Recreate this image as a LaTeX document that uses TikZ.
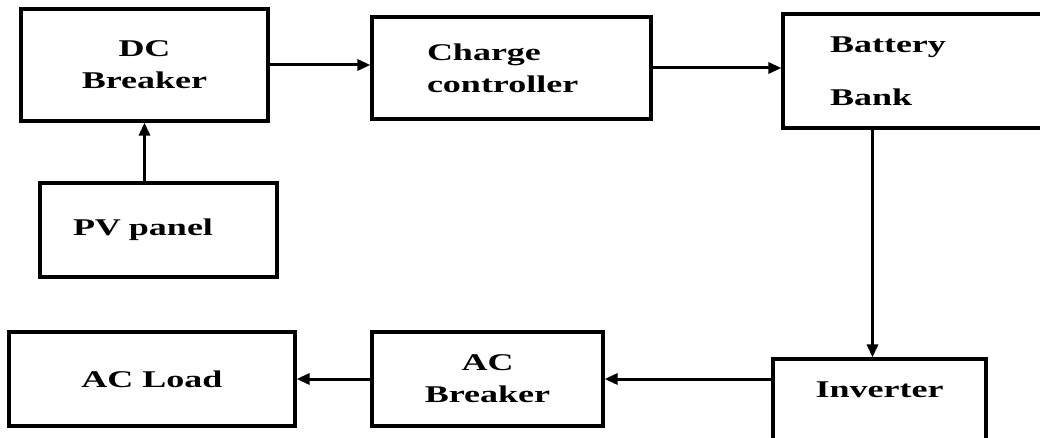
\documentclass[tikz,border=0pt]{standalone}
\usepackage{fontspec}
\newfontfamily\blockfont{Liberation Serif}[FakeStretch=1.5]
\usetikzlibrary{arrows.meta, positioning}

\begin{document}
\begin{tikzpicture}[
  x=1pt, y=-1pt,
  block/.style={rectangle, draw, line width=3.2pt, align=center, inner sep=0pt, font=\blockfont\bfseries\fontsize{24}{32}\selectfont},
  leftblock/.style={block, align=left},
  arr/.style={-{Triangle[length=13pt, width=11pt]}, line width=3pt}
]
\clip (0,0) rectangle (1040,438);

% -------------------------
% DC SIDE
% -------------------------
\node[block, minimum width=247pt, minimum height=112pt] (dc) at (144.5, 65) {DC\\Breaker};
\node[leftblock, text width=169pt, inner xsep=55pt, minimum height=102pt] (cc) at (511.5, 68) {Charge\\controller};
\node[leftblock, text width=168pt, inner xsep=47pt, minimum height=114pt, font=\blockfont\bfseries\fontsize{24}{53}\selectfont] (bat) at (914, 71) {Battery\\Bank};
\node[leftblock, text width=171pt, inner xsep=33pt, minimum height=94pt] (pv) at (158.5, 230) {PV panel};

% -------------------------
% AC SIDE
% -------------------------
\node[block, minimum width=286pt, minimum height=94pt] (load) at (152, 379) {AC Load};
\node[block, minimum width=231pt, minimum height=94pt] (acb) at (487.5, 379) {AC\\Breaker};
\node[block, minimum width=213pt, minimum height=86pt, text depth=25pt] (inv) at (879.5, 402) {Inverter};

% Power flow
\draw[arr] (pv.north -| dc.south) -- (dc.south);
\draw[arr] (dc.east) -- (dc.east -| cc.west);
\draw[arr] (cc.east) -- (cc.east -| bat.west);
\draw[arr] ([xshift=-7pt]inv.north |- bat.south) -- ([xshift=-7pt]inv.north);
\draw[arr] (inv.west |- acb.east) -- (acb.east);
\draw[arr] (acb.west) -- (load.east);

\end{tikzpicture}
\end{document}
